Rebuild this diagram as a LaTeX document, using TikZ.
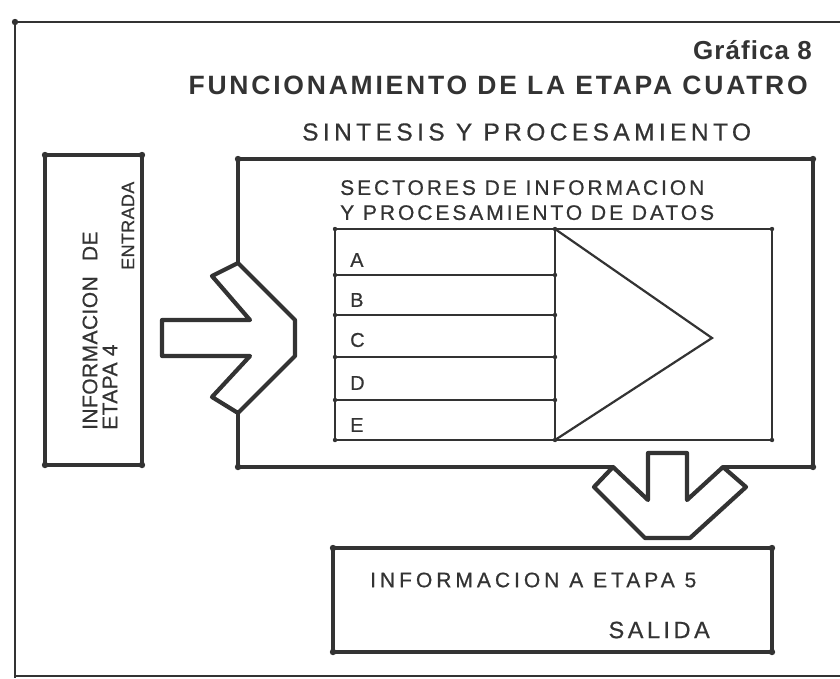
\documentclass[tikz,border=0pt]{standalone}
\usepackage{fontspec}
\setmainfont{Liberation Sans}
\newfontfamily\ancho{Liberation Sans}[FakeBold=0.6]
\usetikzlibrary{positioning}
\definecolor{tinta}{rgb}{0.2,0.2,0.2}
\newcommand{\tam}[1]{\fontsize{#1}{#1}\selectfont}
\newcommand{\esp}[1]{\addfontfeature{LetterSpace=#1}}

\begin{document}
\begin{tikzpicture}[x=1pt,y=-1pt,
	marco/.style={draw=tinta,line width=2.2pt},
	caja/.style={draw=tinta,line width=3.6pt,line cap=round,line join=round},
	flecha/.style={draw=tinta,line width=4.2pt,line join=round},
	tabla/.style={draw=tinta,line width=2.2pt},
	texto/.style={text=tinta,inner sep=0pt,font=\ancho\tam{21}}]
	\useasboundingbox (0,0) rectangle (840,678);

	% marco exterior
	\draw[marco] (840,22) -- (15,22) -- (15,678);
	\draw[marco] (15,676) -- (840,676);

	% cajas de entrada y salida
	\node[caja,minimum width=97pt,minimum height=310pt,inner sep=0pt] (entrada) at (93.5,310) {};
	\node[caja,minimum width=439pt,minimum height=104pt,inner sep=0pt] (salida) at (552.5,600) {};

	% caja de sintesis, abierta donde entran las flechas
	\draw[caja] (238,263) -- (238,159) -- (813,159) -- (813,467) -- (723,467);
	\draw[caja] (613,467) -- (238,467) -- (238,413);

	% flechas
	\draw[flecha] (238,263) -- (295,320) -- (295,356) -- (238,413) -- (212,397) -- (250,356)
		-- (162,356) -- (162,320) -- (250,320) -- (212,276) -- cycle;
	\draw[flecha] (613,467) -- (648,500) -- (648,453) -- (687,453) -- (687,500) -- (723,467)
		-- (746,487) -- (690,538) -- (645,538) -- (594,487) -- cycle;

	% sectores
	\draw[tabla] (335,229) rectangle (772,440);
	\draw[tabla] (555,229) -- (555,440);
	\foreach \y in {275,315,357,400}
		\draw[tabla] (335,\y) -- (555,\y);
	\draw[tabla] (555,229) -- (712,338) -- (555,440);
	\foreach \l/\y in {A/260,B/300,C/340,D/383,E/425}
		\node[texto,anchor=west,font=\ancho\tam{20}] (sec\l) at (350,\y) {\l};

	% puntos de las esquinas
	\foreach \p in {(15,22),(45,155),(142,155),(45,465),(142,465),(238,159),(813,159),(238,467),(813,467),
		(333,548),(772,548),(333,652),(772,652)}
		\fill[tinta] \p circle (3.2pt);
	\foreach \p in {(335,229),(555,229),(772,229),(335,440),(555,440),(772,440),
		(335,275),(555,275),(335,315),(555,315),(335,357),(555,357),(335,400),(555,400)}
		\fill[tinta] \p circle (2.2pt);

	% textos
	\node[texto,anchor=east,font={\bfseries\tam{26}\esp{4}}] (grafica) at (812,50) {Gráfica 8};
	\node[texto,anchor=east,font={\bfseries\tam{26.5}\esp{10.5}}] (titulo) at (808,85) {FUNCIONAMIENTO DE LA ETAPA CUATRO};
	\node[texto,anchor=west,font={\ancho\tam{24.5}\esp{18}}] (sintesis) at (302,132) {SINTESIS Y PROCESAMIENTO};
	\node[texto,anchor=north west,align=left,font={\ancho\fontsize{21}{25}\selectfont\esp{14}}] (sectores) at (340,180)
		{SECTORES DE INFORMACION\\Y PROCESAMIENTO DE DATOS};
	\node[texto,rotate=90,anchor=west,font={\ancho\tam{21}\esp{2}}] (infode) at (90,430) {INFORMACION\hspace{9pt} DE};
	\node[texto,rotate=90,anchor=west,font={\ancho\tam{21}\esp{2}}] (etapa4) at (110,430) {ETAPA 4};
	\node[texto,rotate=90,anchor=west,font={\ancho\tam{18}\esp{2}}] (entra) at (128,270) {ENTRADA};
	\node[texto,anchor=west,font={\ancho\tam{21}\esp{19}}] (etapa5) at (370,580) {INFORMACION A ETAPA 5};
	\node[texto,anchor=east,font={\ancho\tam{23.5}\esp{15}}] (sale) at (710,630) {SALIDA};

\end{tikzpicture}
\end{document}
